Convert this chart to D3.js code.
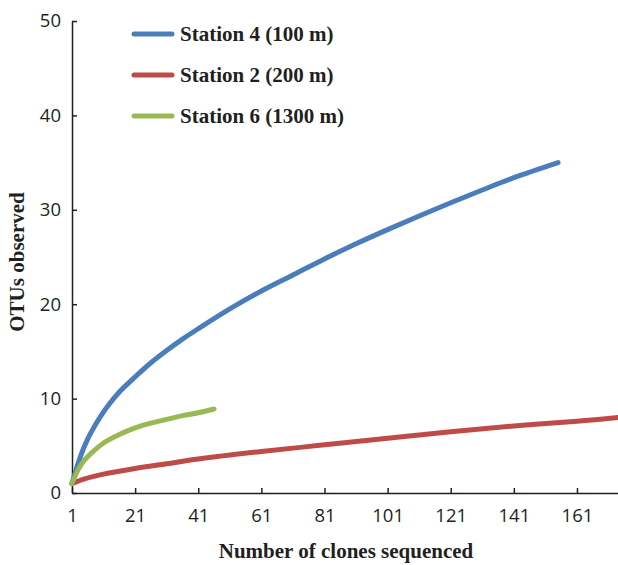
<!DOCTYPE html>
<meta charset="utf-8">
<style>
body { margin: 0; background: #fff; }
.line { fill: none; stroke-width: 5; stroke-linecap: round; stroke-linejoin: round; }
.axis path, .axis line { stroke: #231f20; stroke-width: 1.5; }
.axis text { font-family: "Open Sans", sans-serif; font-size: 18.5px; fill: #231f20; }
.title { font-family: "Liberation Serif", "Times New Roman", serif; font-weight: bold; font-size: 21px; fill: #231f20; }
</style>
<body>
<script src="https://d3js.org/d3.v7.min.js"></script>
<script>

// data
var st4X = [1, 3, 5, 7, 10, 13, 16, 21, 26, 31, 36, 41, 51, 61, 71, 81, 91, 101, 111, 121, 131, 141, 155];
var st4Y = [1, 3.2, 5.0, 6.4, 8.1, 9.5, 10.7, 12.3, 13.8, 15.1, 16.3, 17.4, 19.5, 21.4, 23.1, 24.8, 26.4, 27.9, 29.35, 30.75, 32.1, 33.4, 35.0];
var st2X = [1, 5, 11, 21, 31, 41, 61, 81, 101, 121, 141, 161, 174];
var st2Y = [1, 1.5, 2.0, 2.6, 3.1, 3.6, 4.4, 5.1, 5.8, 6.5, 7.1, 7.6, 8.0];
var st6X = [1, 3, 5, 8, 11, 16, 21, 26, 31, 36, 41, 46];
var st6Y = [1, 2.5, 3.5, 4.5, 5.3, 6.2, 6.9, 7.4, 7.8, 8.2, 8.5, 8.9];
var seriesNames = ["Station 4 (100 m)", "Station 2 (200 m)", "Station 6 (1300 m)"];
var seriesColors = ["#4a7ebb", "#be4b48", "#98b954"];
var xTicks = [1, 21, 41, 61, 81, 101, 121, 141, 161];
var yTicks = [0, 10, 20, 30, 40, 50];

var W = 618, H = 565;
var svg = d3.select("body").append("svg").attr("width", W).attr("height", H);

var x = d3.scaleLinear().domain([1, 174]).range([72, 618]);
var y = d3.scaleLinear().domain([0, 50]).range([493, 21]);

// axes, ticks pointing inward
svg.append("g").attr("class", "axis")
    .attr("transform", "translate(0,493)")
    .call(d3.axisBottom(x).tickValues(xTicks).tickSizeInner(-5).tickSizeOuter(0).tickPadding(16));
svg.append("g").attr("class", "axis")
    .attr("transform", "translate(72,0)")
    .call(d3.axisRight(y).tickValues(yTicks).tickSizeInner(5).tickSizeOuter(0).tickPadding(-16))
    .selectAll("text").attr("text-anchor", "end");

var series = [
  d3.zip(st4X, st4Y),
  d3.zip(st2X, st2Y),
  d3.zip(st6X, st6Y)
];

var line = d3.line()
    .curve(d3.curveCatmullRom.alpha(0.5))
    .x(function(d) { return x(d[0]); })
    .y(function(d) { return y(d[1]); });

svg.selectAll(".line")
    .data(series)
  .enter().append("path")
    .attr("class", "line")
    .attr("stroke", function(d, i) { return seriesColors[i]; })
    .attr("d", line);

// legend
var leg = svg.append("g");
seriesNames.forEach(function(n, i) {
  var ly = 34 + i * 41;
  leg.append("line").attr("x1", 134).attr("x2", 172).attr("y1", ly).attr("y2", ly)
     .attr("stroke", seriesColors[i]).attr("stroke-width", 5).attr("stroke-linecap", "round");
  leg.append("text").attr("class", "title").attr("x", 180).attr("y", ly + 7).text(n);
});

// axis titles
svg.append("text").attr("class", "title")
    .attr("x", 346).attr("y", 558).attr("text-anchor", "middle")
    .text("Number of clones sequenced");
svg.append("text").attr("class", "title")
    .attr("transform", "translate(24,262) rotate(-90)")
    .attr("text-anchor", "middle")
    .text("OTUs observed");
</script>
</body>
